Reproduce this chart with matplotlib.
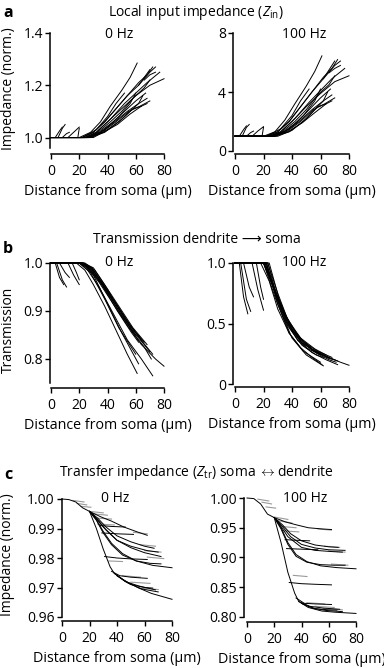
import matplotlib
matplotlib.use("Agg")
import matplotlib.pyplot as plt

plt.rcParams["font.family"] = ["Open Sans", "DejaVu Sans"]
plt.rcParams["mathtext.fontset"] = "custom"
plt.rcParams["mathtext.rm"] = "Open Sans"
plt.rcParams["mathtext.it"] = "Open Sans:italic"

# ---- panel a: local input impedance, one trace per dendritic branch ----
zin_dist = [
    [0, 20, 28, 35, 42, 50, 56, 61],
    [0, 22, 30, 38, 46, 54, 62, 68, 72],
    [0, 22, 30, 38, 46, 54, 62, 70, 74],
    [0, 24, 32, 40, 50, 60, 70, 80],
    [0, 24, 32, 42, 52, 60, 68, 77],
    [0, 25, 33, 42, 50, 58, 66, 70],
    [0, 25, 34, 44, 52, 60, 67],
    [0, 26, 35, 45, 54, 62, 68],
    [0, 26, 36, 46, 55, 63, 70],
    [0, 27, 37, 47, 56, 64, 68],
    [0, 28, 38, 48, 56, 62, 65],
    [0, 28, 38, 48, 56, 60],
    [0, 30, 40, 50, 58, 64],
    [0, 22, 32, 40, 46, 52],
    [0, 3, 6, 8],
    [0, 5, 8, 10],
    [0, 8, 11, 13],
    [0, 12, 16, 20],
    [0, 19, 20],
    [62, 66, 70],
    [66, 70, 74],
]
zin_0hz = [
    [1.0, 1.0, 1.02, 1.06, 1.12, 1.18, 1.23, 1.285],
    [1.0, 1.0, 1.02, 1.06, 1.11, 1.16, 1.21, 1.24, 1.27],
    [1.0, 1.0, 1.02, 1.06, 1.11, 1.16, 1.20, 1.25, 1.27],
    [1.0, 1.0, 1.02, 1.06, 1.11, 1.16, 1.20, 1.225],
    [1.0, 1.0, 1.02, 1.07, 1.13, 1.17, 1.21, 1.25],
    [1.0, 1.0, 1.02, 1.06, 1.10, 1.15, 1.19, 1.22],
    [1.0, 1.0, 1.02, 1.06, 1.10, 1.14, 1.17],
    [1.0, 1.0, 1.02, 1.06, 1.10, 1.13, 1.15],
    [1.0, 1.0, 1.02, 1.06, 1.10, 1.12, 1.14],
    [1.0, 1.0, 1.02, 1.05, 1.09, 1.12, 1.13],
    [1.0, 1.0, 1.02, 1.06, 1.10, 1.13, 1.16],
    [1.0, 1.0, 1.03, 1.08, 1.13, 1.17],
    [1.0, 1.0, 1.03, 1.07, 1.11, 1.12],
    [1.0, 1.0, 1.03, 1.08, 1.13, 1.17],
    [1.0, 1.0, 1.025, 1.04],
    [1.0, 1.0, 1.035, 1.05],
    [1.0, 1.0, 1.015, 1.02],
    [1.0, 1.0, 1.02, 1.04],
    [1.0, 1.0, 1.035],
    [1.20, 1.23, 1.26],
    [1.22, 1.24, 1.25],
]
zin_100hz = [
    [1, 1, 1.3, 2.1, 3.2, 4.4, 5.4, 6.45],
    [1, 1, 1.3, 2.0, 3.0, 4.0, 5.0, 5.6, 6.2],
    [1, 1, 1.3, 2.0, 3.0, 4.0, 4.9, 5.8, 6.1],
    [1, 1, 1.3, 2.0, 3.0, 3.9, 4.7, 5.1],
    [1, 1, 1.3, 2.2, 3.3, 4.1, 4.9, 5.6],
    [1, 1, 1.3, 2.0, 2.8, 3.8, 4.5, 5.1],
    [1, 1, 1.3, 2.0, 2.8, 3.6, 4.2],
    [1, 1, 1.3, 2.0, 2.8, 3.4, 3.8],
    [1, 1, 1.3, 2.0, 2.8, 3.2, 3.6],
    [1, 1, 1.3, 1.9, 2.6, 3.2, 3.4],
    [1, 1, 1.3, 2.0, 2.8, 3.4, 4.0],
    [1, 1, 1.5, 2.4, 3.4, 4.2],
    [1, 1, 1.4, 2.2, 3.0, 3.2],
    [1, 1, 1.5, 2.4, 3.4, 4.2],
    [1, 1, 1.45, 1.7],
    [1, 1, 1.6, 1.8],
    [1, 1, 1.25, 1.35],
    [1, 1, 1.35, 1.65],
    [1, 1, 1.6],
    [4.9, 5.5, 6.1],
    [5.3, 5.6, 5.8],
]

# ---- panel b: transmission dendrite -> soma ----
trans_dist = [
    [0, 18, 24, 30, 38, 46, 54, 61],
    [0, 20, 26, 34, 44, 54, 64, 72],
    [0, 20, 26, 34, 44, 54, 64, 74, 80],
    [0, 20, 27, 35, 45, 55, 65, 72],
    [0, 21, 28, 36, 46, 56, 66, 70],
    [0, 21, 28, 36, 46, 56, 64],
    [0, 22, 29, 37, 47, 57, 66],
    [0, 22, 29, 37, 47, 57, 62],
    [0, 23, 30, 38, 48, 58, 68],
    [0, 23, 30, 40, 50, 60],
    [0, 24, 31, 40, 50, 58, 66, 71],
    [0, 20, 28, 38, 48, 60],
    [0, 22, 30, 40, 50, 62],
    [0, 3, 6, 9],
    [0, 4, 8, 11],
    [0, 6, 10, 13],
    [0, 12, 16, 20],
    [0, 15, 18, 20],
]
trans_0hz = [
    [1, 1, 0.985, 0.955, 0.91, 0.86, 0.81, 0.77],
    [1, 1, 0.985, 0.95, 0.895, 0.84, 0.80, 0.765],
    [1, 1, 0.99, 0.96, 0.915, 0.87, 0.83, 0.80, 0.785],
    [1, 1, 0.99, 0.96, 0.92, 0.875, 0.835, 0.81],
    [1, 1, 0.985, 0.955, 0.91, 0.865, 0.83, 0.815],
    [1, 1, 0.99, 0.96, 0.915, 0.87, 0.84],
    [1, 1, 0.99, 0.955, 0.91, 0.865, 0.835],
    [1, 1, 0.985, 0.95, 0.90, 0.855, 0.835],
    [1, 1, 0.99, 0.955, 0.91, 0.865, 0.83],
    [1, 1, 0.985, 0.94, 0.89, 0.85],
    [1, 1, 0.985, 0.945, 0.895, 0.855, 0.825, 0.80],
    [1, 1, 0.98, 0.925, 0.865, 0.81],
    [1, 1, 0.975, 0.915, 0.855, 0.79],
    [1, 1, 0.97, 0.955],
    [1, 1, 0.965, 0.95],
    [1, 1, 0.98, 0.97],
    [1, 1, 0.975, 0.955],
    [1, 1, 0.98, 0.965],
]
trans_100hz = [
    [1, 1, 0.85, 0.62, 0.42, 0.30, 0.22, 0.16],
    [1, 1, 0.82, 0.55, 0.36, 0.26, 0.20, 0.16],
    [1, 1, 0.84, 0.60, 0.40, 0.29, 0.23, 0.18, 0.155],
    [1, 1, 0.80, 0.56, 0.38, 0.28, 0.22, 0.19],
    [1, 1, 0.76, 0.52, 0.35, 0.27, 0.21, 0.20],
    [1, 1, 0.78, 0.55, 0.38, 0.29, 0.24],
    [1, 1, 0.74, 0.50, 0.34, 0.26, 0.22],
    [1, 1, 0.72, 0.48, 0.32, 0.24, 0.22],
    [1, 1, 0.75, 0.50, 0.35, 0.27, 0.22],
    [1, 1, 0.70, 0.44, 0.30, 0.24],
    [1, 1, 0.70, 0.45, 0.32, 0.25, 0.20, 0.18],
    [1, 1, 0.72, 0.42, 0.27, 0.18],
    [1, 1, 0.66, 0.38, 0.24, 0.15],
    [1, 1, 0.72, 0.58],
    [1, 1, 0.70, 0.60],
    [1, 1, 0.80, 0.72],
    [1, 1, 0.78, 0.61],
    [1, 1, 0.80, 0.70],
]

# ---- panel c: transfer impedance soma <-> dendrite ----
ztr_dist = [
    [0, 5, 10, 15, 20, 25, 30, 35, 38, 45, 55, 65, 80],
    [36, 42, 50, 62],
    [38, 46, 56, 68],
    [40, 48, 58, 70],
    [40, 50, 60, 66],
    [31, 40, 50, 62],
    [20, 28, 36, 45, 55, 62],
    [20, 26, 32, 40, 50, 60, 67],
    [20, 26, 32, 40, 50, 60, 72],
    [20, 25, 30, 36, 44, 54, 66, 80],
    [20, 25, 30, 36, 44, 54, 64, 72],
    [22, 30, 40, 50, 62, 70],
    [28, 36, 46],
    [29, 40, 52],
]
ztr_0hz = [
    [1.0, 0.9998, 0.999, 0.997, 0.9958, 0.990, 0.983, 0.977, 0.9748, 0.9725, 0.970, 0.968, 0.966],
    [0.9755, 0.9740, 0.9735, 0.9731],
    [0.9748, 0.9720, 0.9705, 0.9692],
    [0.9740, 0.9715, 0.9695, 0.9685],
    [0.9740, 0.9710, 0.9700, 0.9698],
    [0.9805, 0.9800, 0.9797, 0.9795],
    [0.9958, 0.9940, 0.9925, 0.9905, 0.9888, 0.9877],
    [0.9958, 0.9935, 0.9905, 0.9875, 0.9855, 0.9840, 0.9833],
    [0.9958, 0.9930, 0.9895, 0.9860, 0.9835, 0.9818, 0.9805],
    [0.9958, 0.9930, 0.9890, 0.9850, 0.9815, 0.9790, 0.9775, 0.9767],
    [0.9958, 0.9928, 0.9885, 0.9845, 0.9810, 0.9790, 0.9782, 0.9780],
    [0.9950, 0.9905, 0.9860, 0.9840, 0.9825, 0.9820],
    [0.9910, 0.9907, 0.9905],
    [0.9885, 0.9882, 0.9880],
]
ztr_100hz = [
    [1.0, 0.999, 0.99, 0.973, 0.967, 0.925, 0.875, 0.84, 0.826, 0.816, 0.810, 0.808, 0.806],
    [0.832, 0.823, 0.822, 0.821],
    [0.826, 0.818, 0.815, 0.813],
    [0.823, 0.815, 0.811, 0.809],
    [0.823, 0.814, 0.812, 0.8115],
    [0.858, 0.856, 0.855, 0.854],
    [0.967, 0.960, 0.955, 0.950, 0.948, 0.947],
    [0.967, 0.955, 0.940, 0.928, 0.921, 0.918, 0.917],
    [0.967, 0.952, 0.935, 0.922, 0.916, 0.913, 0.912],
    [0.967, 0.950, 0.925, 0.905, 0.893, 0.886, 0.883, 0.881],
    [0.967, 0.948, 0.922, 0.902, 0.892, 0.888, 0.887, 0.887],
    [0.962, 0.935, 0.917, 0.912, 0.910, 0.909],
    [0.930, 0.929, 0.928],
    [0.915, 0.914, 0.913],
]
# short terminal branches drawn in grey
ztr_grey_dist = [
    [8, 16], [11, 18], [14, 21], [20, 30], [22, 33], [26, 36], [26, 38],
    [52, 62], [57, 68], [60, 72], [62, 74], [44, 57], [50, 64], [56, 70], [34, 44],
]
ztr_grey_0hz = [
    [0.9995, 0.9990], [0.9985, 0.9980], [0.9975, 0.9972], [0.9958, 0.9953],
    [0.9950, 0.9945], [0.9935, 0.9932], [0.9915, 0.9912], [0.9887, 0.9882],
    [0.9845, 0.9840], [0.9825, 0.9820], [0.9803, 0.9798], [0.9740, 0.9735],
    [0.9718, 0.9714], [0.9698, 0.9693], [0.9790, 0.9788],
]
ztr_grey_100hz = [
    [0.998, 0.995], [0.993, 0.990], [0.985, 0.983], [0.968, 0.964],
    [0.962, 0.958], [0.952, 0.950], [0.945, 0.943], [0.948, 0.946],
    [0.919, 0.917], [0.911, 0.909], [0.889, 0.887], [0.824, 0.822],
    [0.818, 0.816], [0.814, 0.812], [0.870, 0.868],
]

x_ticks = [0, 20, 40, 60, 80]

W, H = 384, 668
fig = plt.figure(figsize=(W / 100, H / 100), dpi=100)
FS = 10


def make_axes(x0, x1, ytop, ybot, ylim, yticks, yticklabels, left_out, bottom_out):
    ax = fig.add_axes([x0 / W, 1 - ybot / H, (x1 - x0) / W, (ybot - ytop) / H])
    ax.set_xlim(0, 80)
    ax.set_ylim(*ylim)
    for s in ("top", "right"):
        ax.spines[s].set_visible(False)
    ax.spines["left"].set_position(("outward", left_out * 0.72))
    ax.spines["bottom"].set_position(("outward", bottom_out * 0.72))
    ax.spines["left"].set_linewidth(1.1)
    ax.spines["bottom"].set_linewidth(1.1)
    ax.set_xticks(x_ticks)
    ax.set_yticks(yticks)
    ax.set_yticklabels(yticklabels)
    ax.tick_params(axis="both", direction="out", length=3.5, width=1.0, labelsize=FS)
    ax.tick_params(axis="x", pad=3.5)
    ax.tick_params(axis="y", pad=1.5)
    ax.set_xlabel("Distance from soma (µm)", fontsize=10.3, labelpad=4)
    return ax


def draw_traces(ax, dists, vals, color="black", lw=0.7):
    for d, v in zip(dists, vals):
        ax.plot(d, v, color=color, lw=lw, clip_on=False)


# panel a
ax = make_axes(51, 164, 33, 148, (0.96, 1.4), [1.0, 1.2, 1.4], ["1.0", "1.2", "1.4"], 1, 6)
draw_traces(ax, zin_dist, zin_0hz)
ax.text(0.6, 0.985, "0 Hz", transform=ax.transAxes, ha="center", va="center", fontsize=FS)

ax = make_axes(235, 349, 33, 151, (0, 8), [0, 4, 8], ["0", "4", "8"], 2, 3)
draw_traces(ax, zin_dist, zin_100hz)
ax.text(0.61, 0.985, "100 Hz", transform=ax.transAxes, ha="center", va="center", fontsize=FS)

# panel b
ax = make_axes(51, 164, 263, 383, (0.75, 1.0), [0.8, 0.9, 1.0], ["0.8", "0.9", "1.0"], 1, 5)
draw_traces(ax, trans_dist, trans_0hz)
ax.text(0.6, 1.0, "0 Hz", transform=ax.transAxes, ha="center", va="center", fontsize=FS)

ax = make_axes(235, 349, 263, 384, (0, 1.0), [0, 0.5, 1.0], ["0", "0.5", "1.0"], 2, 3)
draw_traces(ax, trans_dist, trans_100hz)
ax.text(0.61, 1.0, "100 Hz", transform=ax.transAxes, ha="center", va="center", fontsize=FS)

# panel c
ax = make_axes(62, 172, 499, 617, (0.96, 1.0), [0.96, 0.97, 0.98, 0.99, 1.0],
               ["0.96", "0.97", "0.98", "0.99", "1.00"], 0.5, 4)
draw_traces(ax, ztr_grey_dist, ztr_grey_0hz, color="#9a9a9a", lw=0.8)
draw_traces(ax, ztr_dist, ztr_0hz)
ax.text(0.48, 1.0, "0 Hz", transform=ax.transAxes, ha="center", va="center", fontsize=FS)

ax = make_axes(247, 356, 498, 617, (0.8, 1.0), [0.8, 0.85, 0.9, 0.95, 1.0],
               ["0.80", "0.85", "0.90", "0.95", "1.00"], 3, 5)
draw_traces(ax, ztr_grey_dist, ztr_grey_100hz, color="#9a9a9a", lw=0.8)
draw_traces(ax, ztr_dist, ztr_100hz)
ax.text(0.53, 1.0, "100 Hz", transform=ax.transAxes, ha="center", va="center", fontsize=FS)

# titles, panel letters, shared y labels
fig.text(196 / W, 1 - 13 / H, r"Local input impedance ($Z_{\mathrm{in}}$)", ha="center", va="center", fontsize=FS)
fig.text(197 / W, 1 - 240 / H, "Transmission dendrite \u27f6 soma", ha="center", va="center", fontsize=FS)
fig.text(196 / W, 1 - 473 / H, r"Transfer impedance ($Z_{\mathrm{tr}}$) soma $\leftrightarrow$dendrite",
         ha="center", va="center", fontsize=FS)
for letter, y in (("a", 13), ("b", 249), ("c", 475)):
    fig.text(8 / W, 1 - y / H, letter, ha="center", va="center", fontsize=11.5, fontweight="bold")

fig.text(9 / W, 1 - 89 / H, "Impedance (norm.)", rotation=90, ha="center", va="center", fontsize=FS)
fig.text(8 / W, 1 - 330 / H, "Transmission", rotation=90, ha="center", va="center", fontsize=FS)
fig.text(8 / W, 1 - 555 / H, "Impedance (norm.)", rotation=90, ha="center", va="center", fontsize=FS)

fig.savefig("out.png", dpi=100)
